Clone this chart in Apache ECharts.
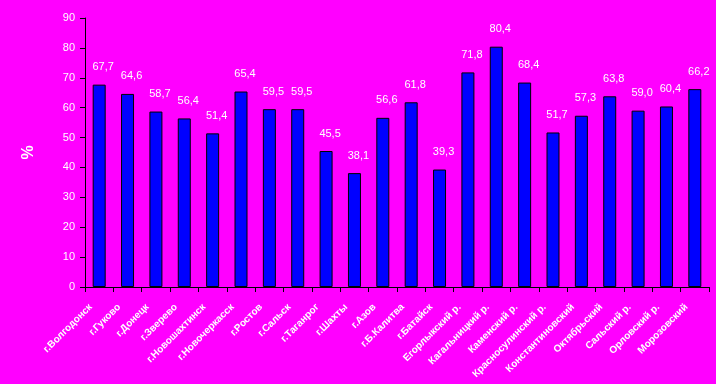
<!DOCTYPE html>
<html><head><meta charset="utf-8">
<script src="https://cdn.jsdelivr.net/npm/echarts@6/dist/echarts.min.js"></script>
<style>html,body{margin:0;padding:0;background:#ff00ff;}#c{width:716px;height:384px;}</style>
</head><body><div id="c"></div>
<script>
const categories = ["г.Волгодонск","г.Гуково","г.Донецк","г.Зверево","г.Новошахтинск","г.Новочеркасск","г.Ростов","г.Сальск","г.Таганрог","г.Шахты","г.Азов","г.Б.Калитва","г.Батайск","Егорлыкский р.","Кагальницкий р.","Каменский р.","Красносулинский р.","Константиновский","Октябрьский","Сальский р.","Орловский р.","Морозовский"];
const values = [67.7,64.6,58.7,56.4,51.4,65.4,59.5,59.5,45.5,38.1,56.6,61.8,39.3,71.8,80.4,68.4,51.7,57.3,63.8,59.0,60.4,66.2];
const yTicks = {min:0, max:90, interval:10};
const txt = {color:'#fff', fontFamily:'Arial, Liberation Sans', fontWeight:'bold', textShadowColor:'#000', textShadowOffsetX:1, textShadowOffsetY:1, textShadowBlur:0};
const chart = echarts.init(document.getElementById('c'));
chart.setOption({
  backgroundColor:'#ff00ff',
  animation:false,
  grid:{left:85,right:7,top:18,bottom:97},
  xAxis:{type:'category',data:categories,boundaryGap:true,
    axisLine:{lineStyle:{color:'#000',width:1}},
    axisTick:{show:true,alignWithLabel:false,length:5,lineStyle:{color:'#000'}},
    axisLabel:Object.assign({},txt,{rotate:45,fontSize:10,interval:0,margin:10,padding:[0,12,0,0]})},
  yAxis:{type:'value',min:yTicks.min,max:yTicks.max,interval:yTicks.interval,
    name:'%',nameLocation:'middle',nameGap:48,nameRotate:90,
    nameTextStyle:Object.assign({},txt,{fontSize:16}),
    splitLine:{show:false},
    axisLine:{show:true,lineStyle:{color:'#000'}},
    axisTick:{show:true,length:5,lineStyle:{color:'#000'}},
    axisLabel:Object.assign({},txt,{fontSize:11,fontWeight:'normal',margin:10})},
  series:[{type:'bar',data:values,barWidth:13,
    itemStyle:{color:'#0000ff',borderColor:'#000',borderWidth:1},
    label:Object.assign({},txt,{show:true,position:'top',distance:12,offset:[4,0],fontSize:11,fontWeight:'normal',
      formatter:p=>p.value.toFixed(1).replace('.',',')})}]
});
</script></body></html>
